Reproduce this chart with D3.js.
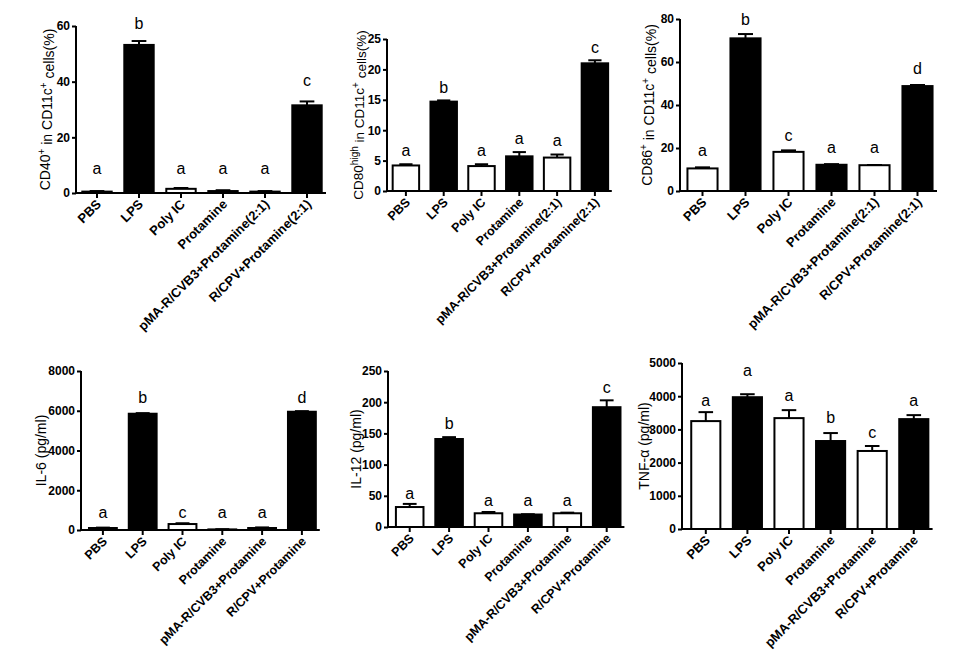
<!DOCTYPE html>
<html><head><meta charset="utf-8">
<script src="https://cdn.jsdelivr.net/npm/d3@7"></script>
<style>body{margin:0;background:#fff;} svg{display:block;}</style>
</head><body>
<svg id="chart" width="964" height="668"></svg>
<script>
// ---------- data ----------
const groupsRatio = ["PBS","LPS","Poly IC","Protamine","pMA-R/CVB3+Protamine(2:1)","R/CPV+Protamine(2:1)"];
const groupsPlain = ["PBS","LPS","Poly IC","Protamine","pMA-R/CVB3+Protamine","R/CPV+Protamine"];

const cd40Mean = [0.5, 53.2, 1.5, 0.7, 0.5, 31.5];
const cd40Err  = [0.2, 1.4, 0.3, 0.3, 0.2, 1.4];
const cd40Letters = ["a","b","a","a","a","c"];
const cd40LetterAt = [9, 61, 9, 9, 9, 40.6];
const cd40Ticks = [0, 20, 40, 60];

const cd80Mean = [4.2, 14.7, 4.1, 5.7, 5.5, 21.0];
const cd80Err  = [0.2, 0.2, 0.3, 0.7, 0.5, 0.5];
const cd80Letters = ["a","b","a","a","a","c"];
const cd80LetterAt = [6.7, 17.1, 6.7, 8.7, 8.4, 23.7];
const cd80Ticks = [0, 5, 10, 15, 20, 25];

const cd86Mean = [10.5, 71, 18.2, 12.2, 12, 48.8];
const cd86Err  = [0.5, 2.0, 0.7, 0.3, 0.1, 0.5];
const cd86Letters = ["a","b","c","a","a","d"];
const cd86LetterAt = [19, 80, 26, 20.5, 20.5, 57];
const cd86Ticks = [0, 20, 40, 60, 80];

const il6Mean = [100, 5850, 300, 30, 100, 5950];
const il6Err  = [20, 30, 40, 10, 30, 30];
const il6Letters = ["a","b","c","a","a","d"];
const il6LetterAt = [900, 6650, 900, 900, 900, 6650];
const il6Ticks = [0, 2000, 4000, 6000, 8000];

const il12Mean = [32, 141, 22, 20, 22, 192];
const il12Err  = [5, 3, 2, 0.5, 1, 11];
const il12Letters = ["a","b","a","a","a","c"];
const il12LetterAt = [54, 166, 43, 43, 43, 224];
const il12Ticks = [0, 50, 100, 150, 200, 250];

const tnfMean = [3250, 3970, 3340, 2650, 2350, 3310];
const tnfErr  = [270, 90, 240, 240, 150, 120];
const tnfLetters = ["a","a","a","b","c","a"];
const tnfLetterAt = [3880, 4790, 4030, 3370, 2920, 3880];
const tnfTicks = [0, 1000, 2000, 3000, 4000, 5000];

// ---------- layout / style ----------
const fills = ["#fff","#000","#fff","#000","#fff","#000"];
const panels = [
  {groups:groupsRatio, mean:cd40Mean, err:cd40Err, letters:cd40Letters, letterAt:cd40LetterAt, ticks:cd40Ticks,
   axisX:76, bandX:76, step:42, y0:193, yTop:26, titleX:45, catFont:13, titleFont:14,
   title:[["CD40",0],["+",1],[" in CD11c",0],["+",1],[" cells(%)",0]]},
  {groups:groupsRatio, mean:cd80Mean, err:cd80Err, letters:cd80Letters, letterAt:cd80LetterAt, ticks:cd80Ticks,
   axisX:387, bandX:387, step:37.8, y0:191, yTop:39, titleX:358, catFont:12.5, titleFont:13.5,
   title:[["CD80",0],["high",1],[" in CD11c",0],["+",1],[" cells(%)",0]]},
  {groups:groupsRatio, mean:cd86Mean, err:cd86Err, letters:cd86Letters, letterAt:cd86LetterAt, ticks:cd86Ticks,
   axisX:680, bandX:681, step:43, y0:191, yTop:19, titleX:647, catFont:13, titleFont:14,
   title:[["CD86",0],["+",1],[" in CD11c",0],["+",1],[" cells(%)",0]]},
  {groups:groupsPlain, mean:il6Mean, err:il6Err, letters:il6Letters, letterAt:il6LetterAt, ticks:il6Ticks,
   axisX:81, bandX:83, step:39.8, y0:530, yTop:371, titleX:41, catFont:12.5, titleFont:14,
   title:[["IL-6 (pg/ml)",0]]},
  {groups:groupsPlain, mean:il12Mean, err:il12Err, letters:il12Letters, letterAt:il12LetterAt, ticks:il12Ticks,
   axisX:388, bandX:390, step:39.4, y0:527, yTop:371, titleX:356, catFont:12.5, titleFont:14,
   title:[["IL-12 (pg/ml)",0]]},
  {groups:groupsPlain, mean:tnfMean, err:tnfErr, letters:tnfLetters, letterAt:tnfLetterAt, ticks:tnfTicks,
   axisX:682, bandX:685, step:41.6, y0:529, yTop:363, titleX:644, catFont:13, titleFont:14,
   title:[["TNF-α (pg/ml)",0]]}
];

const svg = d3.select("#chart");
const FONT = "Liberation Sans, Arial, sans-serif";

panels.forEach(p => {
  const n = p.groups.length;
  const x = d3.scaleBand().domain(p.groups).range([p.bandX, p.bandX + n * p.step])
              .paddingInner(0.3).paddingOuter(0.15);
  const maxT = d3.max(p.ticks);
  const y = d3.scaleLinear().domain([0, maxT]).range([p.y0, p.yTop]);
  const g = svg.append("g");
  const data = p.groups.map((k, i) => ({k, m:p.mean[i], e:p.err[i], l:p.letters[i], la:p.letterAt[i], f:fills[i]}));

  // bars
  g.selectAll("rect.bar").data(data).join("rect")
    .attr("x", d => x(d.k)).attr("width", x.bandwidth())
    .attr("y", d => y(d.m)).attr("height", d => Math.max(0, y(0) - y(d.m)))
    .attr("fill", d => d.f).attr("stroke", "#000").attr("stroke-width", 2);

  // error bars (upper)
  const cap = x.bandwidth() * 0.5;
  g.selectAll("line.ev").data(data).join("line")
    .attr("x1", d => x(d.k) + x.bandwidth()/2).attr("x2", d => x(d.k) + x.bandwidth()/2)
    .attr("y1", d => y(d.m)).attr("y2", d => y(d.m + d.e))
    .attr("stroke", "#000").attr("stroke-width", 2);
  g.selectAll("line.ec").data(data).join("line")
    .attr("x1", d => x(d.k) + x.bandwidth()/2 - cap/2).attr("x2", d => x(d.k) + x.bandwidth()/2 + cap/2)
    .attr("y1", d => y(d.m + d.e)).attr("y2", d => y(d.m + d.e))
    .attr("stroke", "#000").attr("stroke-width", 2);

  // letters
  g.selectAll("text.let").data(data).join("text")
    .attr("x", d => x(d.k) + x.bandwidth()/2).attr("y", d => y(d.la)).attr("dy", "0.35em")
    .attr("text-anchor", "middle").attr("font-family", FONT).attr("font-size", 16)
    .text(d => d.l);

  // y axis
  const ya = g.append("g").attr("transform", `translate(${p.axisX},0)`)
    .call(d3.axisLeft(y).tickValues(p.ticks).tickSize(4).tickPadding(2).tickFormat(d3.format("d")));
  ya.select(".domain").attr("stroke-width", 2).attr("d", `M0,${p.y0}V${p.yTop}`);
  ya.selectAll(".tick line").attr("stroke-width", 2);
  ya.selectAll(".tick text").attr("font-family", FONT).attr("font-weight", "bold").attr("font-size", 12).attr("fill", "#000");

  // x axis
  const xa = g.append("g").attr("transform", `translate(0,${p.y0})`)
    .call(d3.axisBottom(x).tickSize(5).tickFormat(""));
  xa.select(".domain").attr("stroke-width", 2).attr("d", `M${p.axisX},0H${p.bandX + n * p.step - 2}`);
  xa.selectAll(".tick line").attr("stroke-width", 2);

  // category labels
  g.selectAll("text.cat").data(p.groups).join("text")
    .attr("text-anchor", "end").attr("font-family", FONT).attr("font-weight", "bold")
    .attr("font-size", p.catFont)
    .attr("transform", d => `translate(${x(d) + x.bandwidth()/2 + 5},${p.y0 + 12}) rotate(-45)`)
    .text(d => d);

  // y title
  const t = g.append("text").attr("font-family", FONT).attr("font-size", p.titleFont)
    .attr("text-anchor", "middle")
    .attr("transform", `translate(${p.titleX},${(p.y0 + p.yTop)/2}) rotate(-90)`)
    .attr("dy", "0.35em");
  let sup = false;
  p.title.forEach(([s, isSup]) => {
    const ts = t.append("tspan").text(s);
    if (isSup && !sup) { ts.attr("dy", "-0.5em").attr("font-size", 10); sup = true; }
    else if (!isSup && sup) { ts.attr("dy", "0.5em"); sup = false; }
    else if (isSup) ts.attr("font-size", 10);
  });
});
</script>
</body></html>
